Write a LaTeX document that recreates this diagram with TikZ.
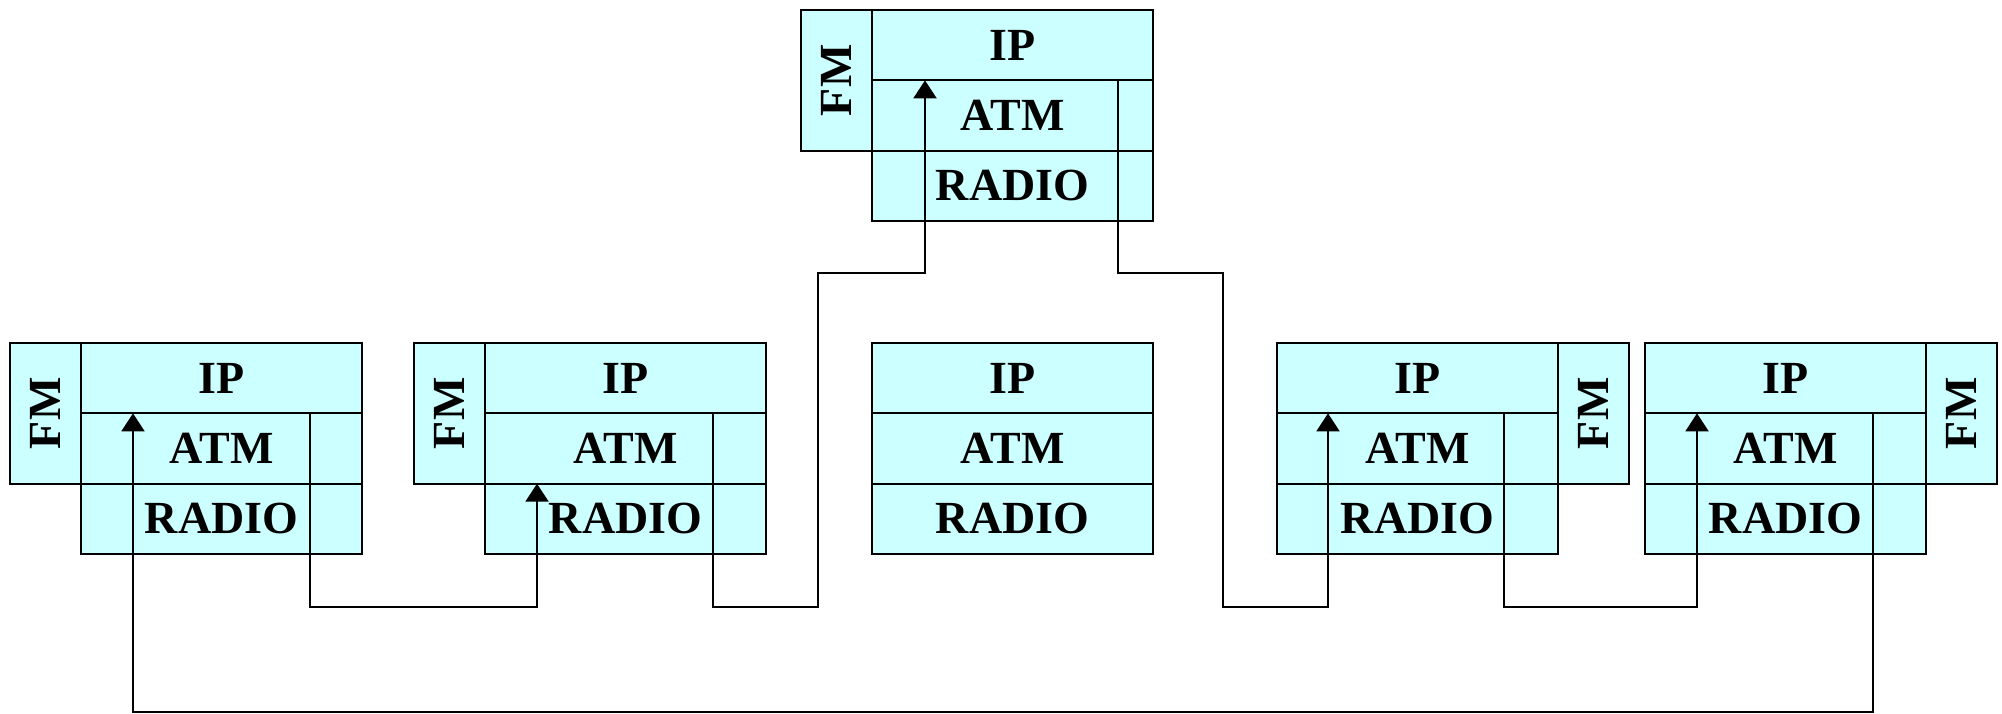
\documentclass[tikz,border=0pt]{standalone}
\usepackage{fontspec}
\usepackage{graphicx}
\setmainfont{Liberation Serif}
\usetikzlibrary{arrows.meta,calc}
\definecolor{layerfill}{RGB}{204,255,255}

% One protocol stack: IP / ATM / RADIO layers, with an optional FM box
% #1 name, #2 left edge of the layers, #3 top edge
\newcommand{\protostack}[3]{%
  \node[layer] (#1-ip)  at (#2,#3) {IP};
  \node[layer] (#1-atm) at (#1-ip.south west) {ATM};
  \node[layer] (#1-rad) at (#1-atm.south west) {RADIO};
}

\begin{document}
\begin{tikzpicture}[x=0.5pt,y=-0.5pt,
  layer/.style={draw, line width=1pt, fill=layerfill, inner sep=0pt, outer sep=0pt,
    minimum width=140.5pt, minimum height=35.17pt, anchor=north west,
    font=\fontsize{23}{27}\selectfont\bfseries},
  fmbox/.style={draw, line width=1pt, fill=layerfill, inner sep=0pt, outer sep=0pt,
    minimum width=35.5pt, minimum height=70.33pt,
    font=\fontsize{23}{27}\selectfont\bfseries},
  conn/.style={line width=1pt, -{Triangle[length=9pt,width=11.5pt]}}]

\useasboundingbox (0,0) rectangle (2002,713);

% stacks
\protostack{T}{872}{10}
\node[fmbox, anchor=north east] (T-fm) at (T-ip.north west) {\rotatebox{90}{FM}};

\protostack{A}{81}{343}
\node[fmbox, anchor=north east] (A-fm) at (A-ip.north west) {\rotatebox{90}{FM}};

\protostack{B}{485}{343}
\node[fmbox, anchor=north east] (B-fm) at (B-ip.north west) {\rotatebox{90}{FM}};

\protostack{C}{872}{343}

\protostack{D}{1277}{343}
\node[fmbox, anchor=north west] (D-fm) at (D-ip.north east) {\rotatebox{90}{FM}};

\protostack{E}{1645}{343}
\node[fmbox, anchor=north west] (E-fm) at (E-ip.north east) {\rotatebox{90}{FM}};

% connection points
\coordinate (T-in)  at ($(T-atm.north west)+(53,0)$);
\coordinate (T-out) at ($(T-atm.north east)+(-35,0)$);
\coordinate (A-in)  at ($(A-atm.north west)+(52,0)$);
\coordinate (A-out) at ($(A-atm.north east)+(-52,0)$);
\coordinate (B-in)  at ($(B-rad.north west)+(52,0)$);
\coordinate (B-out) at ($(B-atm.north east)+(-53,0)$);
\coordinate (D-in)  at ($(D-atm.north west)+(51,0)$);
\coordinate (D-out) at ($(D-atm.north east)+(-54,0)$);
\coordinate (E-in)  at ($(E-atm.north west)+(52,0)$);
\coordinate (E-out) at ($(E-atm.north east)+(-53,0)$);

\coordinate (bus)  at (0,607);
\coordinate (loop) at (0,712);
\coordinate (ltop) at (818,273);
\coordinate (rtop) at (1223,273);

% links
\draw[conn] (A-out) -- (A-out |- bus) -| (B-in);
\draw[conn] (B-out) -- (B-out |- bus) -| (ltop) -| (T-in);
\draw[conn] (T-out) |- (rtop) |- (D-in |- bus) -- (D-in);
\draw[conn] (D-out) -- (D-out |- bus) -| (E-in);
\draw[conn] (E-out) -- (E-out |- loop) -| (A-in);
\end{tikzpicture}
\end{document}
